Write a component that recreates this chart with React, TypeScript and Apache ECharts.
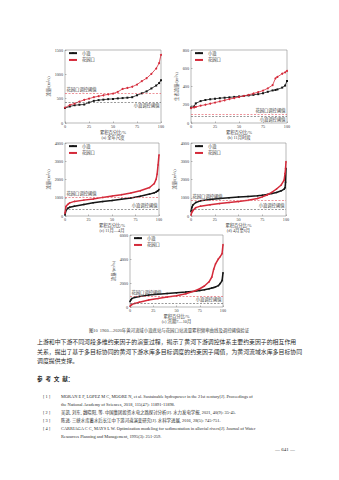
import React, { useEffect, useRef } from "react";
import * as echarts from "echarts";

// ---------- data ----------
const STATION_UP = "小浪";
const STATION_DOWN = "花园口";
const X_TICKS = [0, 25, 50, 75, 100];

// (a) whole year
const pctA = [0, 5, 10, 15, 20, 25, 30, 35, 40, 45, 50, 55, 60, 65, 70, 75, 80, 85, 90, 95, 98, 100];
const upA = [307, 340, 365, 375, 380, 420, 455, 470, 480, 490, 495, 505, 512, 520, 530, 570, 610, 650, 710, 770, 820, 880];
const downA = [315, 370, 400, 440, 475, 500, 530, 550, 570, 590, 605, 640, 700, 720, 745, 790, 860, 920, 1010, 1120, 1230, 1400];

// (b)
const pctB = [0, 3, 5, 10, 15, 20, 25, 30, 35, 40, 45, 50, 55, 60, 65, 70, 75, 80, 85, 88, 90, 95, 98, 100];
const upB = [170, 180, 215, 240, 252, 260, 266, 272, 277, 281, 286, 291, 296, 302, 309, 316, 326, 342, 357, 362, 368, 388, 410, 460];
const downB = [162, 170, 176, 190, 200, 212, 224, 236, 249, 262, 273, 285, 297, 309, 323, 338, 355, 380, 415, 490, 505, 540, 555, 570];

// (c)
const pctC = [0, 1, 3, 5, 10, 20, 30, 40, 50, 60, 70, 80, 90, 95, 97, 98, 99, 100];
const upC = [60, 300, 420, 480, 540, 630, 720, 790, 850, 920, 990, 1080, 1200, 1270, 1320, 1350, 1390, 1450];
const downC = [150, 520, 640, 720, 800, 870, 930, 1020, 1090, 1170, 1260, 1380, 1560, 1780, 2020, 2300, 2800, 3350];

// (d)
const pctD = [0, 1, 2, 5, 10, 20, 30, 40, 50, 60, 70, 75, 80, 85, 90, 95, 98, 99, 99.5, 100];
const upD = [250, 480, 600, 740, 830, 900, 955, 1000, 1040, 1075, 1110, 1140, 1180, 1230, 1290, 1380, 1470, 1550, 1850, 2600];
const downD = [50, 220, 300, 460, 540, 610, 680, 740, 790, 860, 960, 1050, 1150, 1290, 1480, 1700, 1970, 2330, 2600, 2980];

// (e)
const pctE = [0, 1, 2, 5, 10, 20, 30, 40, 50, 60, 70, 75, 80, 85, 88, 90, 92, 95, 97, 99, 100];
const upE = [450, 600, 700, 800, 880, 990, 1060, 1120, 1180, 1240, 1320, 1380, 1440, 1520, 1580, 1620, 1680, 1780, 1950, 2200, 2850];
const downE = [60, 150, 210, 300, 400, 580, 700, 830, 930, 1100, 1350, 1520, 1750, 2100, 2500, 3150, 3600, 4000, 4200, 4450, 5200];

const thresholdDown = [620, 100, 1030, 850, 900];
const thresholdUp = [430, 75, 350, 360, 340];
const yMaxes = [1500, 800, 4000, 4000, 6000];
const yIntervals = [500, 200, 1000, 1000, 2000];
const yNames = ["流量/(m³/s)", "生态流量/(m³/s)", "流量/(m³/s)", "流量/(m³/s)", "流量/(m³/s)"];
const xName = "累积百分比/%";
const subtitles = ["(a) 全年尺度", "(b) 11月时段", "(c) 11月—4月", "(d) 4月至6月", "(e) 汛期7—10月"];
const thrLabelDown = STATION_DOWN + "调控阈值";
const thrLabelUp = STATION_UP + "调控阈值";

const caption = "图10  1960—2020年黄河流域小浪底站与花园口站流量累积频率曲线及调控阈值验证";
const paragraph = [
  "上游和中下游不同河段多维约束因子的演变过程，揭示了黄河下游调控体系主要约束因子的相互作用",
  "关系，提出了基于多目标协同的黄河下游水库多目标调度的约束因子阈值，为黄河流域水库多目标协同",
  "调度提供支撑。",
];
const refTitle = "参  考  文  献：";
const refNums = ["[ 1 ]", "", "[ 2 ]", "[ 3 ]", "[ 4 ]", ""];
const refLines = [
  "MORAN E F, LOPEZ M C, MOORE N, et al. Sustainable hydropower in the 21st century[J]. Proceedings of",
  "the National Academy of Sciences, 2018, 115(47): 11891-11898.",
  "吴凯, 刘东, 魏晓阳, 等. 中国集团投资水电之路探讨分析[J]. 水力发电学报, 2021, 40(9): 35-45.",
  "陈进. 三峡水库蓄水后长江中下游河道演变研究[J]. 水科学进展, 2016, 28(5): 745-751.",
  "CARRIAGA C C, MAYS L W. Optimization modeling for sedimentation in alluvial rivers[J]. Journal of Water",
  "Resources Planning and Management, 1995(3): 251-259.",
];
const pageNum = "— 641 —";

const chartData = [
  { pct: pctA, up: upA, down: downA },
  { pct: pctB, up: upB, down: downB },
  { pct: pctC, up: upC, down: downC },
  { pct: pctD, up: upD, down: downD },
  { pct: pctE, up: upE, down: downE },
];

// ---------- layout ----------
const GRIDS = [
  { left: 65, top: 50, width: 96, height: 73, nameGap: 13, upPos: "insideEndBottom", downPos: "insideStartTop", dense: false },
  { left: 191, top: 50, width: 96, height: 73, nameGap: 11, upPos: "insideEndBottom", downPos: "insideEndTop", dense: false },
  { left: 65, top: 143, width: 94, height: 73, nameGap: 13, upPos: "insideEndTop", downPos: "insideStartTop", dense: true },
  { left: 191, top: 143, width: 95, height: 73, nameGap: 12, upPos: "insideEndTop", downPos: "insideStartTop", dense: true },
  { left: 130, top: 235, width: 93, height: 72, nameGap: 14, upPos: "insideEndTop", downPos: "insideStartTop", dense: true },
];

const FONT = "'Liberation Serif', 'Noto Sans CJK SC', serif";
const TXT = "#3a3a3a";
const BLACK = "#151515";
const RED = "#d42a3a";
const plain = (v: number) => String(v);

function buildOption() {
  const grid: any[] = [];
  const xAxis: any[] = [];
  const yAxis: any[] = [];
  const series: any[] = [];
  const legend: any[] = [];
  const graphic: any[] = [];

  GRIDS.forEach((g, i) => {
    grid.push({ left: g.left, top: g.top, width: g.width, height: g.height, show: true, borderColor: "#8a8a8a", borderWidth: 0.6, containLabel: false });
    xAxis.push({
      gridIndex: i, type: "value", min: X_TICKS[0], max: X_TICKS[X_TICKS.length - 1], interval: X_TICKS[1] - X_TICKS[0],
      name: xName, nameLocation: "middle", nameGap: 7,
      nameTextStyle: { fontSize: 4.3, color: TXT, fontFamily: FONT },
      axisLine: { show: false }, splitLine: { show: false },
      axisTick: { inside: true, length: 1.5, lineStyle: { color: "#777", width: 0.5 } },
      axisLabel: { fontSize: 4.2, color: TXT, margin: 1.5, fontFamily: FONT, formatter: plain },
    });
    yAxis.push({
      gridIndex: i, type: "value", min: 0, max: yMaxes[i], interval: yIntervals[i],
      name: yNames[i], nameLocation: "middle", nameGap: g.nameGap,
      nameTextStyle: { fontSize: 4.3, color: TXT, fontFamily: FONT },
      axisLine: { show: false }, splitLine: { show: false },
      axisTick: { inside: true, length: 1.5, lineStyle: { color: "#777", width: 0.5 } },
      axisLabel: { fontSize: 4.2, color: TXT, margin: 2, fontFamily: FONT, formatter: plain },
    });
    const d = chartData[i];
    const lw = g.dense ? 1.5 : 0.8;
    const mkLabel = (text: string, pos: string) => ({
      show: true, formatter: text, position: pos, fontSize: 4.3, color: TXT, fontFamily: FONT, distance: 1.5,
    });
    series.push({
      name: STATION_UP, type: "line", xAxisIndex: i, yAxisIndex: i,
      data: d.pct.map((p, k) => [p, d.up[k]]),
      symbol: "rect", symbolSize: g.dense ? 1.5 : 2, showSymbol: true,
      lineStyle: { color: BLACK, width: lw }, itemStyle: { color: BLACK },
      z: 3,
      markLine: {
        silent: true, symbol: ["none", "none"],
        lineStyle: { color: "#555", type: [2, 1.5], width: 0.6 },
        label: mkLabel(thrLabelUp, g.upPos),
        data: [{ yAxis: thresholdUp[i] }],
      },
    });
    series.push({
      name: STATION_DOWN, type: "line", xAxisIndex: i, yAxisIndex: i,
      data: d.pct.map((p, k) => [p, d.down[k]]),
      symbol: "circle", symbolSize: g.dense ? 1.5 : 2, showSymbol: true,
      lineStyle: { color: RED, width: lw }, itemStyle: { color: RED },
      z: 4,
      markLine: {
        silent: true, symbol: ["none", "none"],
        lineStyle: { color: "#e04a55", type: [2, 1.5], width: 0.6 },
        label: mkLabel(thrLabelDown, g.downPos),
        data: [{ yAxis: thresholdDown[i] }],
      },
    });
    legend.push({
      orient: "vertical", left: g.left + 3, top: g.top + 1, itemWidth: 8, itemHeight: 2, itemGap: 2.5,
      padding: 0, textStyle: { fontSize: 4.3, color: TXT, fontFamily: FONT },
      data: [STATION_UP, STATION_DOWN], selectedMode: false,
    });
    graphic.push({
      type: "text", x: g.left + g.width / 2, y: g.top + g.height + 14.5,
      style: { text: subtitles[i], fontSize: 4.3, fill: TXT, fontFamily: FONT, align: "center", verticalAlign: "middle" },
    });
  });

  graphic.push({
    type: "text", x: 169, y: 330,
    style: { text: caption, fontSize: 4.4, fill: TXT, fontFamily: FONT, align: "center", verticalAlign: "middle" },
  });
  paragraph.forEach((line, k) => {
    graphic.push({
      type: "text", x: 37, y: 342.3 + k * 9.2,
      style: { text: line, fontSize: 5.9, fill: "#2a2a2a", fontFamily: FONT, align: "left", verticalAlign: "middle" },
    });
  });
  graphic.push({
    type: "text", x: 37, y: 379,
    style: { text: refTitle, fontSize: 5.6, fontWeight: "bold", fill: "#2a2a2a", fontFamily: FONT, align: "left", verticalAlign: "middle" },
  });
  const refY = [396.7, 404.5, 412.4, 420.3, 428.6, 436.6];
  refLines.forEach((line, k) => {
    if (refNums[k]) {
      graphic.push({
        type: "text", x: 43, y: refY[k],
        style: { text: refNums[k], fontSize: 4.3, fill: "#2a2a2a", fontFamily: FONT, align: "left", verticalAlign: "middle" },
      });
    }
    graphic.push({
      type: "text", x: 61, y: refY[k],
      style: { text: line, fontSize: 4.4, fill: "#2a2a2a", fontFamily: FONT, align: "left", verticalAlign: "middle" },
    });
  });
  graphic.push({
    type: "text", x: 295, y: 449,
    style: { text: pageNum, fontSize: 5, fill: "#2a2a2a", fontFamily: FONT, align: "right", verticalAlign: "middle" },
  });

  return {
    animation: false,
    backgroundColor: "#ffffff",
    grid, xAxis, yAxis, series, legend, graphic,
  };
}

export default function App() {
  const ref = useRef<HTMLDivElement>(null);
  useEffect(() => {
    if (!ref.current) return;
    const chart = echarts.init(ref.current, undefined, { renderer: "svg" });
    chart.setOption(buildOption() as any);
    return () => chart.dispose();
  }, []);
  return (
    <div
      ref={ref}
      style={{ position: "absolute", left: 0, top: 0, width: 339, height: 480, background: "#fff" }}
    />
  );
}
